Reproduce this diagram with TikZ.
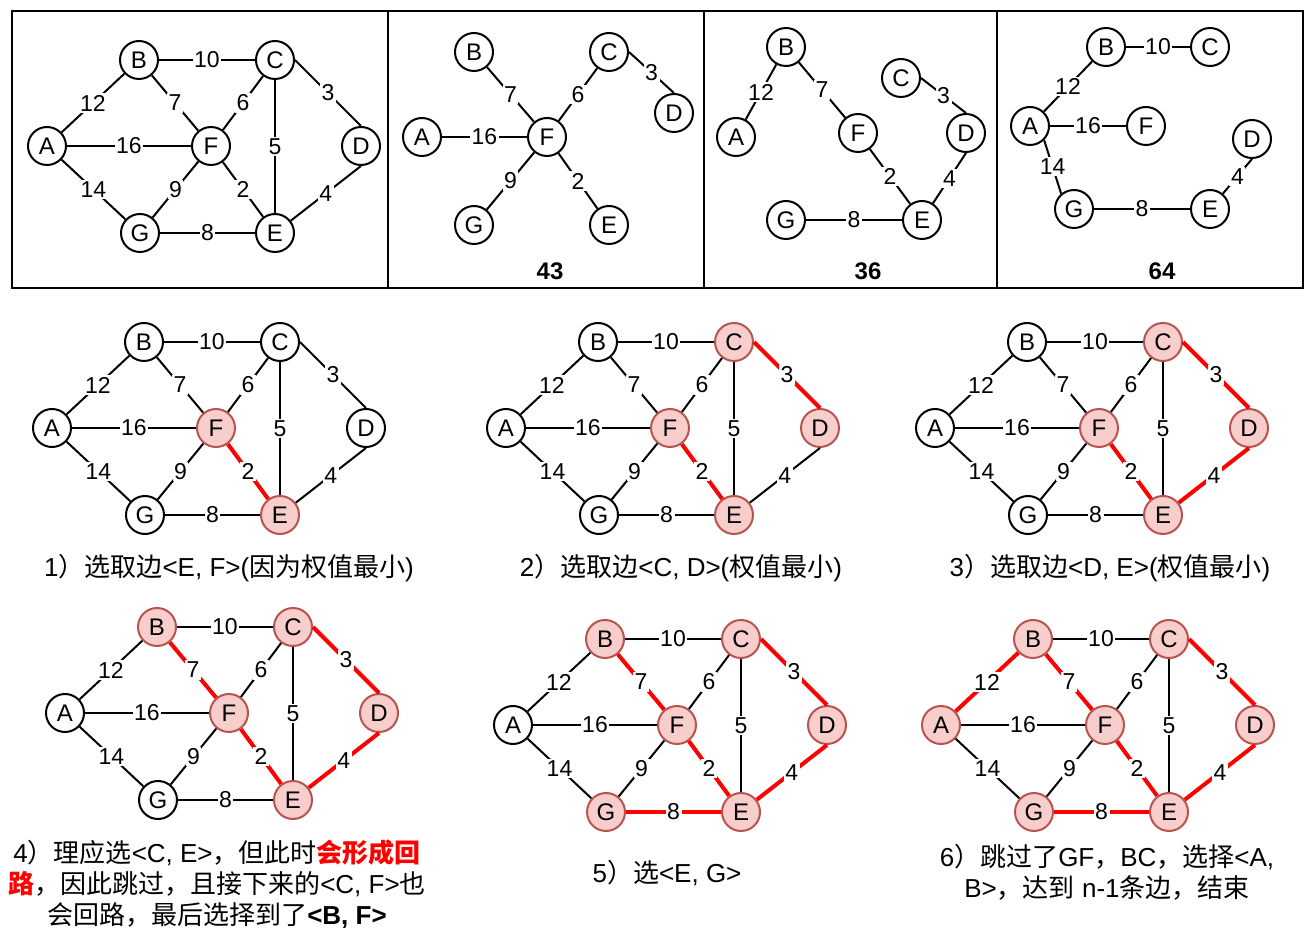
\documentclass[tikz,border=0pt]{standalone}
\usepackage{fontspec}
\setmainfont{Liberation Sans}
\newfontfamily\cjk{Noto Sans CJK SC}
\definecolor{pickfill}{HTML}{F8CECC}
\definecolor{pickline}{HTML}{B85450}
\definecolor{treered}{HTML}{FF0000}

% the whole weighted graph: #1 name prefix, #2 centre of A, #3 styles of picked parts
\newcommand{\fullgraph}[3]{%
  \begin{scope}[shift={(#2)}, #3]
    \foreach \vname/\vx/\vy in {A/0/0, B/92/-86, C/228/-86, D/314/0, F/164/0, G/93/87, E/228/87}
      \node[vertex, v\vname/.try] (#1\vname) at (\vx,\vy) {\vname};
    \foreach \ua/\ub/\wt/\ename in {A/B/12/AB, A/F/16/AF, A/G/14/AG, B/C/10/BC, B/F/7/BF,
        C/F/6/CF, C.east/D.north/3/CD, C/E/5/CE, F/G/9/FG, F/E/2/EF, E/D.south/4/DE, G/E/8/EG}
      \draw[edge, e\ename/.try] (#1\ua) -- node[weight] {\wt} (#1\ub);
  \end{scope}}

\begin{document}
\begin{tikzpicture}[
    x=0.5pt, y=-0.5pt,
    vertex/.style={circle, draw=black, line width=1pt, fill=white, minimum size=19pt,
                   inner sep=0pt, font=\fontsize{12}{14}\selectfont},
    picked/.style={vertex, draw=pickline, fill=pickfill},
    edge/.style={draw=black, line width=1pt},
    tree/.style={draw=treered, line width=2pt},
    weight/.style={fill=white, inner sep=0.8pt, font=\fontsize{11.5}{13}\selectfont},
    score/.style={font=\fontsize{12}{14}\selectfont\bfseries},
    caption/.style={align=center, font=\fontsize{13}{15.5}\selectfont},
    panel/.style={draw=black, line width=1pt}
]
\useasboundingbox (0,0) rectangle (1308,935);

% Top row frames
\draw[panel] (12,11) rectangle (388,288);
\draw[panel] (388,11) rectangle (704,288);
\draw[panel] (704,11) rectangle (997,288);
\draw[panel] (997,11) rectangle (1303,288);

% Original graph
\fullgraph{g}{47,146}{}

% Spanning tree, weight 43
\node[vertex] (sA) at (422,137) {A};
\node[vertex] (sB) at (474,52) {B};
\node[vertex] (sC) at (609,52) {C};
\node[vertex] (sD) at (674,113) {D};
\node[vertex] (sF) at (547,137) {F};
\node[vertex] (sG) at (474,225) {G};
\node[vertex] (sE) at (609,225) {E};
\draw[edge] (sA) -- node[weight] {16} (sF);
\draw[edge] (sB) -- node[weight] {7} (sF);
\draw[edge] (sF) -- node[weight] {6} (sC);
\draw[edge] (sC.east) -- node[weight] {3} (sD.north);
\draw[edge] (sF) -- node[weight] {9} (sG);
\draw[edge] (sF) -- node[weight] {2} (sE);
\node[score] (sSum) at (550,271) {43};

% Spanning tree, weight 36
\node[vertex] (pA) at (736,137) {A};
\node[vertex] (pB) at (786,47) {B};
\node[vertex] (pC) at (901,78) {C};
\node[vertex] (pD) at (966,133) {D};
\node[vertex] (pF) at (858,133) {F};
\node[vertex] (pG) at (786,220) {G};
\node[vertex] (pE) at (922,220) {E};
\draw[edge] (pA) -- node[weight] {12} (pB);
\draw[edge] (pB) -- node[weight] {7} (pF);
\draw[edge] (pC.east) -- node[weight] {3} (pD.north);
\draw[edge] (pF) -- node[weight] {2} (pE);
\draw[edge] (pE) -- node[weight] {4} (pD.south);
\draw[edge] (pG) -- node[weight] {8} (pE);
\node[score] (pSum) at (868,271) {36};

% Spanning tree, weight 64
\node[vertex] (rA) at (1030,126) {A};
\node[vertex] (rB) at (1106,47) {B};
\node[vertex] (rC) at (1210,47) {C};
\node[vertex] (rD) at (1252,139) {D};
\node[vertex] (rF) at (1146,126) {F};
\node[vertex] (rG) at (1074,209) {G};
\node[vertex] (rE) at (1210,209) {E};
\draw[edge] (rB) -- node[weight] {10} (rC);
\draw[edge] (rA) -- node[weight] {12} (rB);
\draw[edge] (rA) -- node[weight] {16} (rF);
\draw[edge] (rA.-45) -- node[weight] {14} (rG.130);
\draw[edge] (rG) -- node[weight] {8} (rE);
\draw[edge] (rE) -- node[weight] {4} (rD.south);
\node[score] (rSum) at (1162,271) {64};

% Step 1
\fullgraph{q1}{52,428}{vE/.style=picked, vF/.style=picked, eEF/.style=tree}
\node[caption] (cap1) at (229,568) {1{\cjk ）选取边}<E, F>({\cjk 因为权值最小})};

% Step 2
\fullgraph{q2}{506,428}{vC/.style=picked, vD/.style=picked, vE/.style=picked, vF/.style=picked,
    eEF/.style=tree, eCD/.style=tree}
\node[caption] (cap2) at (681,568) {2{\cjk ）选取边}<C, D>({\cjk 权值最小})};

% Step 3
\fullgraph{q3}{935,428}{vC/.style=picked, vD/.style=picked, vE/.style=picked, vF/.style=picked,
    eEF/.style=tree, eCD/.style=tree, eDE/.style=tree}
\node[caption] (cap3) at (1110,568) {3{\cjk ）选取边}<D, E>({\cjk 权值最小})};

% Step 4
\fullgraph{q4}{65,713}{vB/.style=picked, vC/.style=picked, vD/.style=picked, vE/.style=picked,
    vF/.style=picked, eEF/.style=tree, eCD/.style=tree, eDE/.style=tree, eBF/.style=tree}
\node[caption] (cap4) at (217,884) {4{\cjk ）理应选}<C, E>{\cjk ，但此时\textcolor{treered}{\bfseries 会形成回}}\\
    {\cjk\textcolor{treered}{\bfseries 路}，因此跳过，且接下来的}<C, F>{\cjk 也}\\
    {\cjk 会回路，最后选择到了}\textbf{<B, F>}};

% Step 5
\fullgraph{q5}{513,725}{vB/.style=picked, vC/.style=picked, vD/.style=picked, vE/.style=picked,
    vF/.style=picked, vG/.style=picked, eEF/.style=tree, eCD/.style=tree, eDE/.style=tree,
    eBF/.style=tree, eEG/.style=tree}
\node[caption] (cap5) at (667,873) {5{\cjk ）选}<E, G>};

% Step 6
\fullgraph{q6}{941,725}{vA/.style=picked, vB/.style=picked, vC/.style=picked, vD/.style=picked,
    vE/.style=picked, vF/.style=picked, vG/.style=picked, eEF/.style=tree, eCD/.style=tree,
    eDE/.style=tree, eBF/.style=tree, eEG/.style=tree, eAB/.style=tree}
\node[caption] (cap6) at (1107,872) {6{\cjk ）跳过了}GF{\cjk ，}BC{\cjk ，选择}<A,\\
    B>{\cjk ，达到} n-1{\cjk 条边，结束}};

\end{tikzpicture}
\end{document}
